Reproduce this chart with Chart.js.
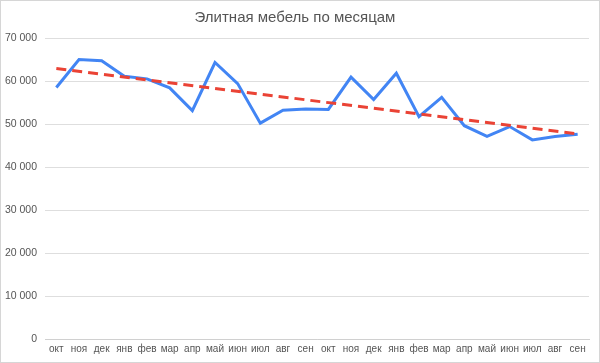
<!DOCTYPE html>
<html>
<head>
<meta charset="utf-8">
<script src="https://cdn.jsdelivr.net/npm/chart.js@4"></script>
<style>
  html, body { margin: 0; padding: 0; background: #fff; }
  #wrap { width: 598px; height: 361px; border: 1px solid #d6d6d6; position: relative; }
</style>
</head>
<body>
<div id="wrap"><canvas id="salesChart" width="598" height="361"></canvas></div>
<script>
// Данные графика
const months = ['окт', 'ноя', 'дек', 'янв', 'фев', 'мар', 'апр', 'май', 'июн', 'июл', 'авг', 'сен',
                'окт', 'ноя', 'дек', 'янв', 'фев', 'мар', 'апр', 'май', 'июн', 'июл', 'авг', 'сен'];
const sales = [58500, 65000, 64700, 61100, 60500, 58400, 53100, 64300, 59400, 50200, 53200, 53500,
               53400, 60900, 55700, 61800, 51700, 56200, 49600, 47100, 49400, 46300, 47100, 47600];
// линия тренда: только концы, между ними прямая
const trend = [62900, null, null, null, null, null, null, null, null, null, null, null,
               null, null, null, null, null, null, null, null, null, null, null, 47700];
const yTicks = [0, 10000, 20000, 30000, 40000, 50000, 60000, 70000];

const fmt = v => String(v).replace(/\B(?=(\d{3})+(?!\d))/g, ' ');

const ctx = document.getElementById('salesChart').getContext('2d');
const chart = new Chart(ctx, {
    type: 'line',
    data: {
        labels: months,
        datasets: [{
            label: 'Продажи',
            data: sales,
            borderColor: '#4285F4',
            borderWidth: 3,
            pointRadius: 0,
            tension: 0,
            order: 2
        }, {
            label: 'Тренд',
            data: trend,
            borderColor: '#EA4335',
            borderWidth: 3,
            borderDash: [10, 6],
            pointRadius: 0,
            spanGaps: true,
            order: 1
        }]
    },
    options: {
        responsive: false,
        animation: false,
        layout: { padding: { top: 0, right: 10, bottom: 0, left: 0 } },
        plugins: {
            legend: { display: false },
            tooltip: { enabled: false },
            title: {
                display: true,
                text: 'Элитная мебель по месяцам',
                color: '#555',
                font: { family: 'Liberation Sans, Arial, sans-serif', size: 15, weight: 'normal' },
                padding: { top: 8, bottom: 11 }
            }
        },
        scales: {
            x: {
                offset: true,
                grid: { display: false, drawTicks: false },
                border: { color: '#d0d0d0' },
                ticks: {
                    color: '#555',
                    font: { family: 'Liberation Sans, Arial, sans-serif', size: 10 },
                    padding: 4,
                    maxRotation: 0,
                    autoSkip: false
                },
                afterFit: s => { s.height = 23; }
            },
            y: {
                min: 0,
                max: 70000,
                afterBuildTicks: s => { s.ticks = yTicks.map(v => ({ value: v })); },
                grid: { color: '#dedede', drawTicks: false },
                border: { display: false },
                ticks: {
                    color: '#555',
                    font: { family: 'Liberation Sans, Arial, sans-serif', size: 10.5 },
                    padding: 8,
                    callback: v => fmt(v)
                },
                afterFit: s => { s.width = 44; }
            }
        }
    }
});
</script>
</body>
</html>
